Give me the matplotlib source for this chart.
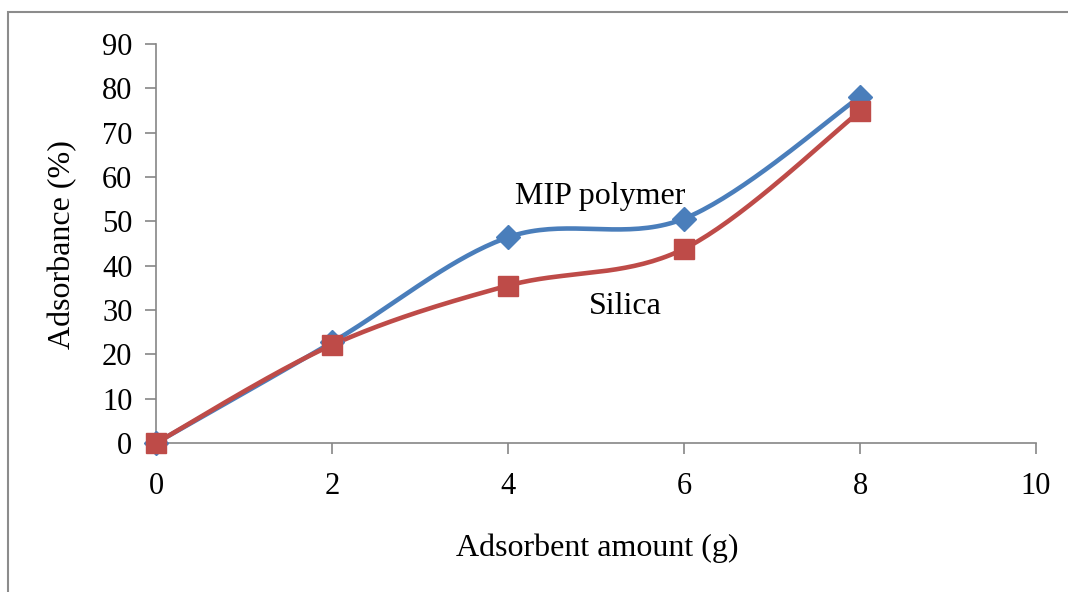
import numpy as np
import matplotlib
matplotlib.use("Agg")
import matplotlib.pyplot as plt
from matplotlib.patches import Rectangle

plt.rcParams['font.family'] = ['Liberation Serif', 'DejaVu Serif']

x_amount = [0, 2, 4, 6, 8]
mip = [0, 22.7, 46.4, 50.6, 78.1]
silica = [0, 22.1, 35.5, 43.8, 74.8]

x_ticks = [0, 2, 4, 6, 8, 10]
y_ticks = [0, 10, 20, 30, 40, 50, 60, 70, 80, 90]


def smooth(xs, ys, n=40):
    # excel-like smoothed line: cubic bezier through the points
    xs = np.asarray(xs, float)
    ys = np.asarray(ys, float)
    px = np.concatenate([[xs[0]], xs, [xs[-1]]])
    py = np.concatenate([[ys[0]], ys, [ys[-1]]])
    ox, oy = [], []
    t = np.linspace(0, 1, n)
    for i in range(1, len(px) - 2):
        p0 = np.array([px[i], py[i]])
        p3 = np.array([px[i + 1], py[i + 1]])
        p1 = p0 + (np.array([px[i + 1], py[i + 1]]) - np.array([px[i - 1], py[i - 1]])) / 6
        p2 = p3 - (np.array([px[i + 2], py[i + 2]]) - np.array([px[i], py[i]])) / 6
        b = ((1 - t) ** 3)[:, None] * p0 + (3 * (1 - t) ** 2 * t)[:, None] * p1 \
            + (3 * (1 - t) * t ** 2)[:, None] * p2 + (t ** 3)[:, None] * p3
        ox.extend(b[:, 0])
        oy.extend(b[:, 1])
    return ox, oy


fig = plt.figure(figsize=(10.68, 5.92), dpi=100)
ax = fig.add_axes([156 / 1068, 1 - 443 / 592, 880 / 1068, 399 / 592])

blue = '#4A7EBB'
red = '#BE4B48'

sx, sy = smooth(x_amount, mip)
ax.plot(sx, sy, color=blue, lw=3.3, solid_capstyle='round', zorder=3, clip_on=False)
ax.plot(x_amount, mip, 'D', color=blue, ms=12, zorder=4, clip_on=False)

sx, sy = smooth(x_amount, silica)
ax.plot(sx, sy, color=red, lw=3.3, solid_capstyle='round', zorder=3, clip_on=False)
ax.plot(x_amount, silica, 's', color=red, ms=14, zorder=5, clip_on=False)

ax.set_xlim(0, 10)
ax.set_ylim(0, 90)
ax.set_xticks(x_ticks)
ax.set_yticks(y_ticks)

for s in ['top', 'right']:
    ax.spines[s].set_visible(False)
for s in ['left', 'bottom']:
    ax.spines[s].set_color('#868686')
    ax.spines[s].set_linewidth(1.2)
ax.tick_params(axis='both', direction='out', length=8, width=1.2, color='#868686',
               labelsize=22)
ax.tick_params(axis='x', pad=13)
ax.tick_params(axis='y', pad=9)

ax.text(5.05, 55.5, 'MIP polymer', fontsize=23, ha='center', va='center')
ax.text(5.33, 30.7, 'Silica', fontsize=23, ha='center', va='center')

fig.text(597 / 1068, 1 - 548 / 592, 'Adsorbent amount (g)', fontsize=23,
         ha='center', va='center')
fig.text(63 / 1068, 1 - 245 / 592, 'Adsorbance (%)', fontsize=23,
         ha='center', va='center', rotation=90)

fig.patches.append(Rectangle((8 / 1068, -0.1), 1.2, 1.1 - 12 / 592 + 0.0,
                             transform=fig.transFigure, fill=False,
                             edgecolor='#8c8c8c', lw=1.5))

fig.savefig('out.png', dpi=100)
